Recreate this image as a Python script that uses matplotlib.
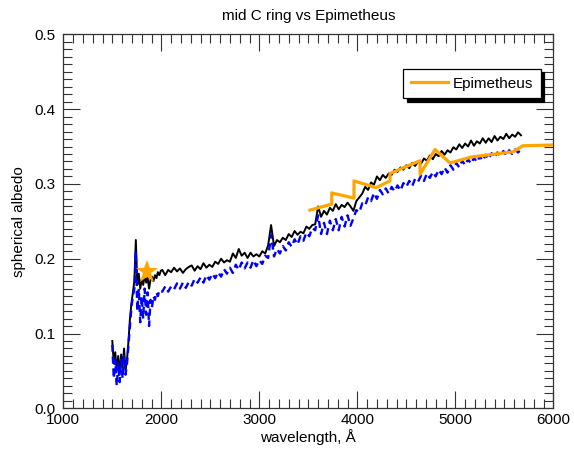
import numpy as np
import matplotlib
matplotlib.use("Agg")
import matplotlib.pyplot as plt
from matplotlib.ticker import MultipleLocator

plt.rcParams['font.family'] = ['Liberation Sans', 'DejaVu Sans']

# ---- data ----
wl_uv = [1500, 1515, 1530, 1545, 1560, 1575, 1590, 1605, 1620, 1635, 1650, 1665,
         1680, 1695, 1710, 1725, 1740, 1755, 1770, 1785, 1800, 1815, 1830, 1845,
         1860, 1875, 1890, 1905, 1920, 1935, 1950, 1965, 1980, 1995]
wl_vis = [2010, 2040, 2070, 2100, 2130, 2160, 2190, 2220, 2250, 2280, 2310, 2340,
          2370, 2400, 2430, 2460, 2490, 2520, 2550, 2580, 2610, 2640, 2670, 2700,
          2730, 2760, 2790, 2820, 2850, 2880, 2910, 2940, 2970, 3000, 3030, 3060,
          3090, 3120, 3150, 3180, 3210, 3240, 3270, 3300, 3330, 3360, 3390, 3420,
          3450, 3480, 3510, 3540, 3570, 3600, 3630, 3660, 3690, 3720, 3750, 3780,
          3810, 3840, 3870, 3900, 3930, 3960, 3990, 4020, 4050, 4080, 4110, 4140,
          4170, 4200, 4230, 4260, 4290, 4320, 4350, 4380, 4410, 4440, 4470, 4500,
          4530, 4560, 4590, 4620, 4650, 4680, 4710, 4740, 4770, 4800, 4830, 4860,
          4890, 4920, 4950, 4980, 5010, 5040, 5070, 5100, 5130, 5160, 5190, 5220,
          5250, 5280, 5310, 5340, 5370, 5400, 5430, 5460, 5490, 5520, 5550, 5580,
          5610, 5640, 5670]

ring_uv = [0.090, 0.060, 0.075, 0.050, 0.070, 0.045, 0.072, 0.055, 0.080, 0.050,
           0.065, 0.090, 0.120, 0.140, 0.155, 0.170, 0.225, 0.165, 0.180, 0.160,
           0.172, 0.165, 0.178, 0.168, 0.175, 0.160, 0.172, 0.176, 0.170, 0.178,
           0.174, 0.182, 0.178, 0.184]
ring_vis = [0.185, 0.178, 0.185, 0.182, 0.188, 0.183, 0.187, 0.181, 0.186, 0.189,
            0.191, 0.184, 0.190, 0.186, 0.194, 0.188, 0.192, 0.189, 0.196, 0.193,
            0.200, 0.195, 0.198, 0.196, 0.207, 0.201, 0.213, 0.204, 0.208, 0.201,
            0.208, 0.203, 0.206, 0.203, 0.210, 0.207, 0.218, 0.245, 0.217, 0.225,
            0.222, 0.228, 0.225, 0.233, 0.229, 0.237, 0.232, 0.236, 0.234, 0.243,
            0.240, 0.245, 0.246, 0.270, 0.256, 0.264, 0.259, 0.268, 0.264, 0.273,
            0.266, 0.272, 0.269, 0.275, 0.270, 0.264, 0.277, 0.282, 0.287, 0.296,
            0.292, 0.302, 0.299, 0.310, 0.305, 0.312, 0.308, 0.314, 0.312, 0.319,
            0.316, 0.322, 0.319, 0.325, 0.321, 0.328, 0.324, 0.330, 0.327, 0.334,
            0.331, 0.338, 0.333, 0.340, 0.337, 0.344, 0.339, 0.345, 0.342, 0.349,
            0.346, 0.353, 0.348, 0.354, 0.350, 0.358, 0.351, 0.357, 0.354, 0.361,
            0.355, 0.361, 0.356, 0.364, 0.358, 0.363, 0.360, 0.367, 0.361, 0.366,
            0.363, 0.369, 0.365]

model_uv = [0.085, 0.040, 0.065, 0.030, 0.060, 0.035, 0.065, 0.040, 0.070, 0.045,
            0.060, 0.085, 0.110, 0.135, 0.150, 0.160, 0.210, 0.130, 0.160, 0.115,
            0.150, 0.120, 0.160, 0.125, 0.155, 0.110, 0.145, 0.135, 0.150, 0.145,
            0.155, 0.150, 0.158, 0.156]
model_vis = [0.156, 0.163, 0.156, 0.163, 0.159, 0.167, 0.160, 0.168, 0.161, 0.169,
             0.164, 0.173, 0.168, 0.175, 0.168, 0.178, 0.172, 0.180, 0.174, 0.182,
             0.176, 0.186, 0.180, 0.188, 0.181, 0.192, 0.185, 0.195, 0.187, 0.195,
             0.188, 0.198, 0.190, 0.198, 0.193, 0.204, 0.201, 0.232, 0.203, 0.213,
             0.207, 0.217, 0.211, 0.222, 0.216, 0.226, 0.219, 0.230, 0.224, 0.235,
             0.230, 0.241, 0.238, 0.258, 0.233, 0.248, 0.233, 0.251, 0.238, 0.253,
             0.238, 0.256, 0.243, 0.258, 0.244, 0.254, 0.265, 0.262, 0.274, 0.271,
             0.282, 0.277, 0.288, 0.280, 0.292, 0.286, 0.294, 0.287, 0.296, 0.290,
             0.298, 0.291, 0.301, 0.296, 0.304, 0.297, 0.307, 0.303, 0.311, 0.304,
             0.314, 0.308, 0.316, 0.310, 0.319, 0.313, 0.322, 0.315, 0.325, 0.319,
             0.328, 0.322, 0.331, 0.325, 0.333, 0.327, 0.335, 0.329, 0.337, 0.331,
             0.339, 0.333, 0.341, 0.335, 0.342, 0.337, 0.344, 0.338, 0.345, 0.340,
             0.346, 0.342, 0.346]

epi_wl = [3517, 3739, 3739, 3966, 3966, 4191, 4334, 4334, 4640, 4640, 4793, 4946,
          5167, 5592, 5688, 6000, 6100]
epi_alb = [0.265, 0.273, 0.288, 0.281, 0.304, 0.295, 0.304, 0.314, 0.331, 0.313,
           0.346, 0.328, 0.336, 0.343, 0.351, 0.352, 0.352]

star_wl = [1851]
star_alb = [0.182]

title = "mid C ring vs Epimetheus"
xlabel = "wavelength, Å"
ylabel = "spherical albedo"
legend_label = "Epimetheus"

# ---- figure ----
fig = plt.figure(figsize=(5.74, 4.49), dpi=100)
ax = fig.add_axes([0.1103, 0.0906, 0.964 - 0.1103, 0.9236 - 0.0906])

wl = wl_uv + wl_vis
ring = ring_uv + ring_vis
model = model_uv + model_vis

ax.plot(wl, ring, color='black', lw=1.4, zorder=2)
ax.plot(wl, model, color='#0000ff', lw=1.7, ls=(0, (3, 2)), zorder=3)
ax.plot(epi_wl, epi_alb, color='#ffa500', lw=2.3, zorder=4, label=legend_label)
ax.plot(star_wl, star_alb, ls='none', marker='*', ms=17, color='#ffa500',
        markeredgewidth=0, zorder=5)

ax.set_xlim(1000, 6000)
ax.set_ylim(0.0, 0.5)
ax.xaxis.set_major_locator(MultipleLocator(1000))
ax.xaxis.set_minor_locator(MultipleLocator(100))
ax.yaxis.set_major_locator(MultipleLocator(0.1))
ax.yaxis.set_minor_locator(MultipleLocator(0.01))
ax.yaxis.set_major_formatter(matplotlib.ticker.FormatStrFormatter('%.1f'))

ax.tick_params(which='both', direction='in', top=True, right=True,
               width=0.8, colors='#333333', labelcolor='black', labelsize=11)
ax.tick_params(which='major', length=12.5)
ax.tick_params(which='minor', length=6.5)
ax.tick_params(axis='x', pad=3.5)
ax.tick_params(axis='y', pad=5.5)
for s in ax.spines.values():
    s.set_linewidth(0.9)
    s.set_color('#333333')

ax.set_title(title, fontsize=11, pad=10)
ax.set_xlabel(xlabel, fontsize=11, labelpad=1)
ax.set_ylabel(ylabel, fontsize=11, labelpad=6)

leg = ax.legend(loc='upper right', bbox_to_anchor=(0.9745, 0.9075),
                borderaxespad=0, fancybox=False, framealpha=1,
                edgecolor='black', fontsize=11, handlelength=2.45,
                handletextpad=0.3, borderpad=0.5,
                shadow={'color': 'black', 'alpha': 1.0, 'ox': 2.5, 'oy': -2.5})
leg.get_frame().set_linewidth(0.9)

fig.savefig('out.png', dpi=100)
